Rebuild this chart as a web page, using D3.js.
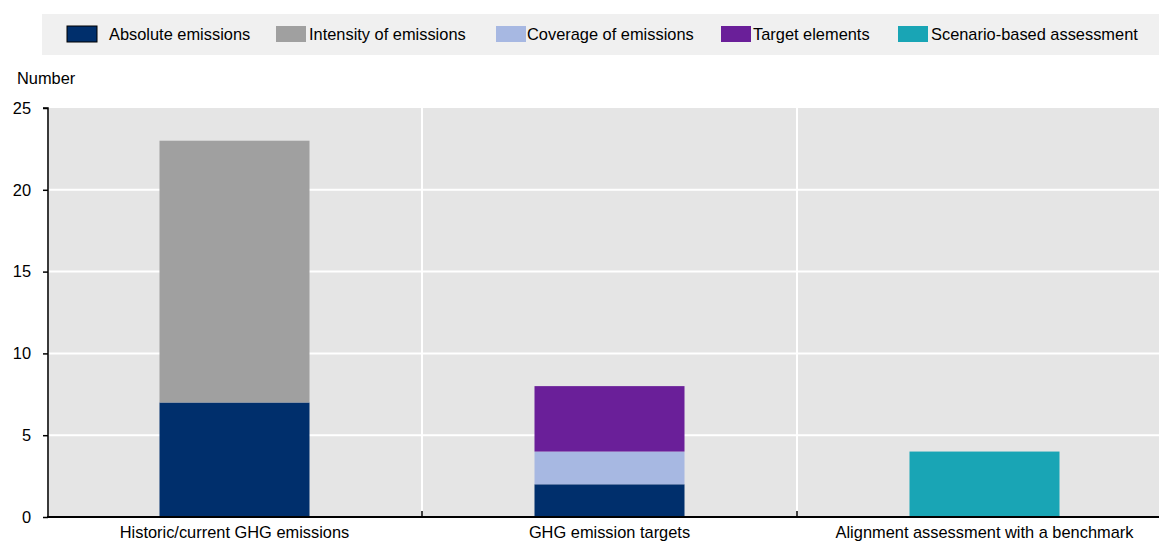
<!DOCTYPE html>
<html>
<head>
<meta charset="utf-8">
<script src="https://cdn.jsdelivr.net/npm/d3@7"></script>
<style>
  body { margin: 0; background: #fff; }
  svg text { font-family: "Liberation Sans", Arial, sans-serif; fill: #000; }
</style>
</head>
<body>
<div id="chart"></div>
<script>
// categories and series
var categories = ['Historic/current GHG emissions', 'GHG emission targets', 'Alignment assessment with a benchmark'];
var series = ['Absolute emissions', 'Intensity of emissions', 'Coverage of emissions', 'Target elements', 'Scenario-based assessment'];
var colors = ['#002f6c', '#a0a0a0', '#a7b8e2', '#6a1f99', '#19a5b5'];

// values per series, one per category
var absolute = [7, 2, 0];
var intensity = [16, 0, 0];
var coverage = [0, 2, 0];
var targetElements = [0, 4, 0];
var scenario = [0, 0, 4];

var yTicks = [0, 5, 10, 15, 20, 25];

var width = 1159, height = 542;
var margin = {top: 108, right: -13, bottom: 25, left: 48};
var fontSize = '16.4px';

var values = [absolute, intensity, coverage, targetElements, scenario];
var table = categories.map(function(c, i) {
    var row = {cat: c};
    series.forEach(function(s, j) { row[s] = values[j][i]; });
    return row;
});

var svg = d3.select('#chart').append('svg')
    .attr('width', width)
    .attr('height', height);

var x = d3.scaleBand()
    .domain(categories)
    .range([margin.left - 1, width - margin.right])
    .paddingInner(0.6)
    .paddingOuter(0.3);

var y = d3.scaleLinear()
    .domain([0, 25])
    .range([height - margin.bottom, margin.top]);

var step = x.step();
var plotLeft = margin.left - 1, plotRight = width - margin.right;

// legend box
var legend = svg.append('g');
legend.append('rect')
    .attr('x', 42).attr('y', 14)
    .attr('width', width - 42).attr('height', 41)
    .attr('fill', '#f0f0f0');

var legendX = [67, 276, 496, 721, 898];
var textGap = [12, 3, 1, 2, 3];
series.forEach(function(s, i) {
    var g = legend.append('g').attr('transform', 'translate(' + legendX[i] + ',26)');
    g.append('rect')
        .attr('width', 30).attr('height', 16)
        .attr('fill', colors[i])
        .attr('stroke', i === 0 ? '#000' : 'none')
        .attr('stroke-width', 1);
    g.append('text')
        .attr('x', 30 + textGap[i])
        .attr('y', 8)
        .attr('dy', '0.35em')
        .style('font-size', fontSize)
        .text(s);
});

// plot background
svg.append('rect')
    .attr('x', plotLeft).attr('y', y(25))
    .attr('width', plotRight - plotLeft)
    .attr('height', y(0) - y(25))
    .attr('fill', '#e5e5e5');

// horizontal gridlines
svg.append('g').selectAll('line')
    .data(yTicks.filter(function(d) { return d > 0 && d < 25; }))
    .enter().append('line')
    .attr('x1', plotLeft).attr('x2', plotRight)
    .attr('y1', function(d) { return y(d); })
    .attr('y2', function(d) { return y(d); })
    .attr('stroke', '#fff').attr('stroke-width', 2);

// vertical separators between categories
var seps = categories.slice(1).map(function(c) { return x(c) - step * 0.3; });
svg.append('g').selectAll('line')
    .data(seps)
    .enter().append('line')
    .attr('x1', function(d) { return d; })
    .attr('x2', function(d) { return d; })
    .attr('y1', y(25)).attr('y2', y(0))
    .attr('stroke', '#fff').attr('stroke-width', 2);

// stacked bars
var stack = d3.stack().keys(series)(table);
svg.append('g').selectAll('g')
    .data(stack)
    .enter().append('g')
    .attr('fill', function(d, i) { return colors[i]; })
    .selectAll('rect')
    .data(function(d) { return d.filter(function(p) { return p[1] - p[0] > 0; }); })
    .enter().append('rect')
    .attr('x', function(d) { return x(d.data.cat); })
    .attr('width', x.bandwidth())
    .attr('y', function(d) { return y(d[1]); })
    .attr('height', function(d) { return y(d[0]) - y(d[1]); });

// y axis
var yAxis = svg.append('g')
    .attr('transform', 'translate(' + margin.left + ',0)')
    .call(d3.axisLeft(y).tickValues(yTicks).tickSize(5).tickPadding(12));
yAxis.select('.domain').attr('stroke', '#000').attr('stroke-width', 1.5)
    .attr('d', 'M-5,' + y(25) + 'H0V' + y(0));
yAxis.selectAll('.tick line').attr('stroke', '#000').attr('stroke-width', 1.5);
yAxis.selectAll('.tick text').style('font-size', fontSize).attr('fill', '#000');

// bottom axis line
svg.append('line')
    .attr('x1', margin.left - 1).attr('x2', plotRight)
    .attr('y1', y(0)).attr('y2', y(0))
    .attr('stroke', '#000').attr('stroke-width', 2);
svg.append('g').selectAll('line')
    .data(seps)
    .enter().append('line')
    .attr('x1', function(d) { return d; })
    .attr('x2', function(d) { return d; })
    .attr('y1', y(0)).attr('y2', y(0) - 6)
    .attr('stroke', '#000').attr('stroke-width', 1.5);

// category labels
svg.append('g').selectAll('text')
    .data(categories)
    .enter().append('text')
    .attr('x', function(d) { return x(d) + x.bandwidth() / 2; })
    .attr('y', y(0) + 21)
    .attr('text-anchor', 'middle')
    .style('font-size', fontSize)
    .text(function(d) { return d; });

// y axis title
svg.append('text')
    .attr('x', 17).attr('y', 78)
    .attr('dy', '0.35em')
    .style('font-size', fontSize)
    .text('Number');
</script>
</body>
</html>
